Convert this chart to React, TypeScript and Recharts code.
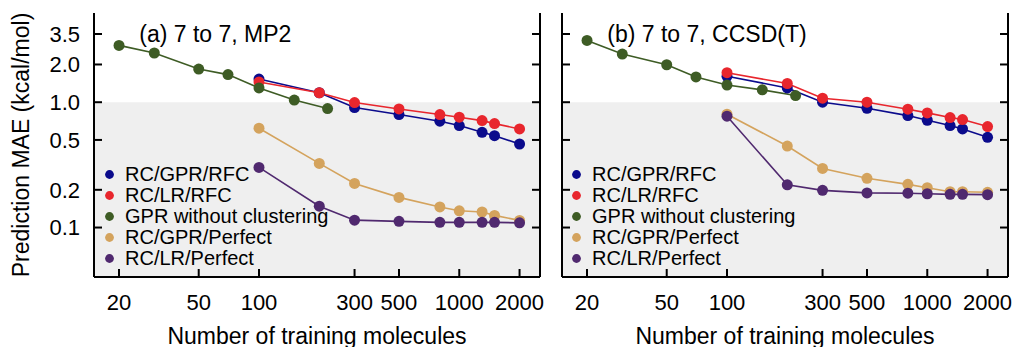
import React from 'react';
import {
  LineChart,
  Line,
  XAxis,
  YAxis,
  ReferenceArea,
  Legend,
  Customized,
} from 'recharts';

// ---------- data ----------
const xClustered = [100, 200, 300, 500, 800, 1000, 1300, 1500, 2000];
const xNoCluster = [20, 30, 50, 70, 100, 150, 220];

const mp2RcGprRfc = [1.53, 1.19, 0.906, 0.797, 0.705, 0.651, 0.575, 0.541, 0.464];
const mp2RcLrRfc = [1.45, 1.19, 0.994, 0.884, 0.797, 0.759, 0.713, 0.675, 0.612];
const mp2Gpr = [2.84, 2.47, 1.84, 1.66, 1.3, 1.04, 0.89];
const mp2RcGprPerfect = [0.62, 0.325, 0.225, 0.174, 0.146, 0.136, 0.133, 0.125, 0.114];
const mp2RcLrPerfect = [0.302, 0.148, 0.1145, 0.112, 0.11, 0.11, 0.11, 0.11, 0.109];

const ccsdRcGprRfc = [1.61, 1.3, 1.0, 0.895, 0.782, 0.718, 0.651, 0.612, 0.525];
const ccsdRcLrRfc = [1.72, 1.41, 1.076, 1.0, 0.879, 0.822, 0.754, 0.727, 0.639];
const ccsdGpr = [3.11, 2.42, 1.99, 1.59, 1.37, 1.255, 1.13];
const ccsdRcGprPerfect = [0.802, 0.447, 0.296, 0.247, 0.221, 0.208, 0.193, 0.193, 0.191];
const ccsdRcLrPerfect = [0.773, 0.219, 0.198, 0.189, 0.188, 0.186, 0.184, 0.184, 0.183];

const seriesNames = [
  'RC/GPR/RFC',
  'RC/LR/RFC',
  'GPR without clustering',
  'RC/GPR/Perfect',
  'RC/LR/Perfect',
];
const seriesColors = ['#0b0b8c', '#e8262d', '#3e5c25', '#d4a35d', '#50296f'];

const xTicks = [20, 50, 100, 300, 500, 1000, 2000];
const yTicks = [0.1, 0.2, 0.5, 1.0, 2.0, 3.5];
const xDomain = [15, 2530];
const yDomain = [0.0403, 5.15];

const panelTitles = ['(a) 7 to 7, MP2', '(b) 7 to 7, CCSD(T)'];
const xTitle = 'Number of training molecules';
const yTitle = 'Prediction MAE (kcal/mol)';

const FONT = '"Liberation Sans", Arial, Helvetica, sans-serif';

const toPoints = (xs: number[], ys: number[]) => xs.map((x, i) => ({ x, y: ys[i] }));

const panelSeries = [
  [
    toPoints(xClustered, mp2RcGprRfc),
    toPoints(xClustered, mp2RcLrRfc),
    toPoints(xNoCluster, mp2Gpr),
    toPoints(xClustered, mp2RcGprPerfect),
    toPoints(xClustered, mp2RcLrPerfect),
  ],
  [
    toPoints(xClustered, ccsdRcGprRfc),
    toPoints(xClustered, ccsdRcLrRfc),
    toPoints(xNoCluster, ccsdGpr),
    toPoints(xClustered, ccsdRcGprPerfect),
    toPoints(xClustered, ccsdRcLrPerfect),
  ],
];

const LegendBox = () => (
  <div style={{ fontFamily: FONT, fontSize: 20, color: '#000' }}>
    {seriesNames.map((n, i) => (
      <div
        key={n}
        style={{ display: 'flex', alignItems: 'center', height: 21, lineHeight: '21px', whiteSpace: 'nowrap' }}
      >
        <svg width={9} height={9} style={{ marginRight: 11.5, flex: 'none' }}>
          <circle cx={4.5} cy={4.5} r={4.4} fill={seriesColors[i]} />
        </svg>
        <span>{n}</span>
      </div>
    ))}
  </div>
);

type PanelProps = {
  idx: number;
  left: number;
  width: number;
  leftAxisWidth: number;
  rightAxisWidth: number;
  showYLabels: boolean;
  legendLeft: number;
  titleX: number;
};

const Panel = ({ idx, left, width, leftAxisWidth, rightAxisWidth, showYLabels, legendLeft, titleX }: PanelProps) => {
  const data = panelSeries[idx];
  const axisStyle = { stroke: '#000', strokeWidth: 2 };
  const tickStyle = { fill: '#000', fontSize: 22, fontFamily: FONT };
  const fmtY = (v: number) => (showYLabels ? v.toFixed(1) : '');
  return (
    <div style={{ position: 'absolute', left, top: 0 }}>
      <LineChart
        width={width}
        height={347}
        margin={{ top: 13, right: 0, bottom: 0, left: 0 }}
        style={{ fontFamily: FONT }}
      >
        <XAxis
          xAxisId="b"
          dataKey="x"
          type="number"
          scale="log"
          domain={xDomain}
          allowDataOverflow
          ticks={xTicks}
          interval={0}
          orientation="bottom"
          height={70}
          axisLine={axisStyle}
          tickLine={axisStyle}
          tickSize={-8}
          tickMargin={25}
          tick={tickStyle}
          label={{
            content: (p: any) => {
              const vb = p.viewBox || {};
              return (
                <text
                  x={vb.x + vb.width / 2}
                  y={343.5}
                  textAnchor="middle"
                  fontSize={23}
                  fontFamily={FONT}
                  fill="#000"
                >
                  {xTitle}
                </text>
              );
            },
          }}
        />
        <XAxis
          xAxisId="t"
          dataKey="x"
          type="number"
          scale="log"
          domain={xDomain}
          allowDataOverflow
          ticks={xTicks}
          interval={0}
          orientation="top"
          height={0}
          axisLine={axisStyle}
          tickLine={axisStyle}
          tickSize={-8}
          tickFormatter={() => ''}
        />
        <YAxis
          yAxisId="l"
          type="number"
          scale="log"
          domain={yDomain}
          allowDataOverflow
          ticks={yTicks}
          interval={0}
          orientation="left"
          width={leftAxisWidth}
          axisLine={axisStyle}
          tickLine={axisStyle}
          tickSize={-8}
          tickMargin={22}
          tick={tickStyle}
          tickFormatter={fmtY}
          label={
            showYLabels
              ? {
                  content: (p: any) => {
                    const vb = p.viewBox || {};
                    const cx = vb.x + 28.5;
                    const cy = vb.y + vb.height / 2;
                    return (
                      <text
                        x={cx}
                        y={cy}
                        transform={`rotate(-90 ${cx} ${cy})`}
                        textAnchor="middle"
                        fontSize={23}
                        fontFamily={FONT}
                        fill="#000"
                      >
                        {yTitle}
                      </text>
                    );
                  },
                }
              : undefined
          }
        />
        <YAxis
          yAxisId="r"
          type="number"
          scale="log"
          domain={yDomain}
          allowDataOverflow
          ticks={yTicks}
          interval={0}
          orientation="right"
          width={rightAxisWidth}
          axisLine={axisStyle}
          tickLine={axisStyle}
          tickSize={-8}
          tickFormatter={() => ''}
        />
        <ReferenceArea
          xAxisId="b"
          yAxisId="l"
          y1={yDomain[0]}
          y2={1}
          fill="#efefef"
          fillOpacity={1}
          stroke="none"
        />
        {data.map((pts, i) => (
          <Line
            key={seriesNames[i]}
            xAxisId="b"
            yAxisId="l"
            data={pts}
            dataKey="y"
            name={seriesNames[i]}
            stroke={seriesColors[i]}
            strokeWidth={1.6}
            dot={{ r: 5.5, fill: seriesColors[i], stroke: 'none' }}
            activeDot={false}
            isAnimationActive={false}
          />
        ))}
        <Legend
          content={<LegendBox />}
          align="center"
          verticalAlign="middle"
          wrapperStyle={{ left: legendLeft, top: 163.5, width: 'auto', height: 'auto' }}
        />
        <Customized
          component={() => (
            <text x={titleX} y={41.7} fontSize={23} fontFamily={FONT} fill="#000">
              {panelTitles[idx]}
            </text>
          )}
        />
      </LineChart>
    </div>
  );
};

export default function App() {
  return (
    <div style={{ position: 'absolute', left: 0, top: 0, width: 1019, height: 347, background: '#fff' }}>
      <Panel
        idx={0}
        left={0}
        width={548}
        leftAxisWidth={94}
        rightAxisWidth={8}
        showYLabels={true}
        legendLeft={104.5}
        titleX={139.3}
      />
      <Panel
        idx={1}
        left={548}
        width={471}
        leftAxisWidth={14}
        rightAxisWidth={11}
        showYLabels={false}
        legendLeft={23.5}
        titleX={59.3}
      />
    </div>
  );
}
